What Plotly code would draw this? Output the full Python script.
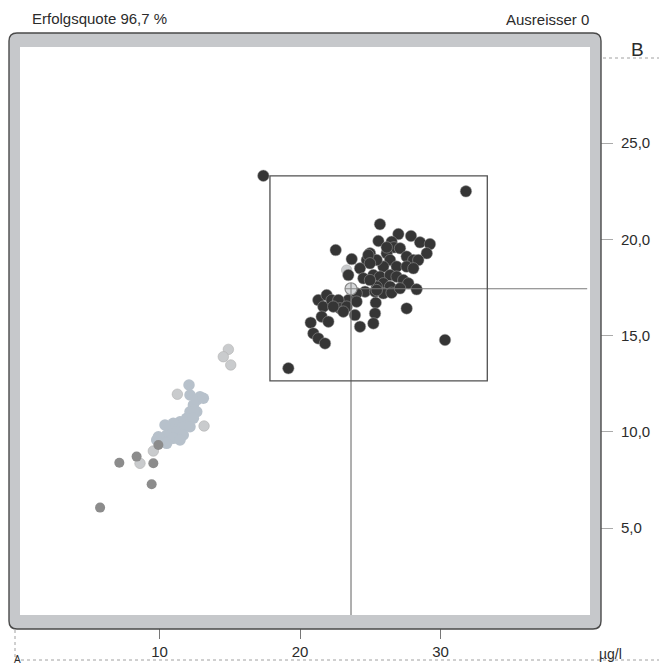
import plotly.graph_objects as go

# ---------------- data ----------------
dark_x = [17.39, 31.81, 19.17, 30.32, 27.59, 22.54, 25.69,
          27.00, 27.90, 25.58, 26.52, 28.54, 29.25, 29.02, 26.69, 27.12, 26.17,
          24.98, 24.75, 27.59, 28.07, 28.42, 26.41, 25.93, 25.46, 24.27, 23.68,
          26.88, 27.59, 28.07, 25.22, 25.69, 26.41, 26.88, 27.35, 27.71, 25.93,
          26.41, 25.46, 24.51, 24.98, 23.44, 28.30, 24.63, 25.34, 25.93, 26.52,
          27.12, 24.03, 23.44, 26.17, 24.86, 24.98, 25.46,
          21.30, 21.90, 21.66, 22.25, 22.73, 22.85, 23.32, 24.03, 23.08, 22.37,
          23.91, 25.39, 25.34, 25.22, 24.27, 21.54, 22.02, 20.76, 20.95, 21.30,
          21.78]
dark_y = [23.30, 22.49, 13.30, 14.77, 16.41, 19.44, 20.78,
          20.27, 20.17, 19.91, 19.87, 19.84, 19.75, 19.27, 19.58, 19.53, 19.27,
          19.27, 18.92, 19.10, 18.92, 18.92, 18.92, 18.58, 18.92, 18.49, 18.97,
          18.58, 18.58, 18.49, 18.14, 18.06, 18.14, 18.06, 17.88, 17.71, 17.71,
          17.54, 17.54, 17.97, 17.88, 18.14, 17.40, 17.28, 17.28, 17.19, 17.22,
          17.45, 17.19, 16.84, 19.58, 19.18, 18.75, 17.36,
          16.84, 17.10, 16.50, 16.84, 16.84, 16.41, 16.50, 16.76, 16.24, 16.50,
          16.06, 16.70, 16.15, 15.63, 15.46, 15.98, 15.72, 15.67, 15.11, 14.85,
          14.59]

blob_x = [12.10, 12.17, 12.88, 12.41, 12.17, 12.65, 11.93, 12.41, 11.46, 10.98,
          11.69, 12.17, 10.75, 11.22, 10.51, 10.98, 11.69, 10.16, 10.51, 11.46,
          9.92, 12.65, 13.12, 10.39, 9.80]
blob_y = [12.43, 11.91, 11.82, 11.39, 11.04, 11.04, 10.70, 10.70, 10.52, 10.44,
          10.26, 10.26, 10.18, 10.00, 9.83, 9.66, 9.83, 9.57, 9.40, 9.57,
          9.74, 11.65, 11.74, 10.35, 9.57]

light_x = [14.90, 14.54, 15.07, 11.27, 13.17, 9.56, 8.61, 23.32]
light_y = [14.28, 13.90, 13.47, 11.95, 10.30, 9.00, 8.36, 18.40]

mid_x = [8.37, 9.56, 7.14, 9.44, 5.77, 9.92]
mid_y = [8.71, 8.36, 8.39, 7.27, 6.06, 9.31]

center_x = [23.63]
center_y = [17.43]

rect_x = [17.86, 33.33]
rect_y = [12.64, 23.29]

x_range = [0.07, 40.64]
y_range = [0.48, 29.99]

x_ticks = [10, 20, 30]
y_ticks = [5, 10, 15, 20, 25]

title_left = "Erfolgsquote 96,7 %"
title_right = "Ausreisser 0"
axis_b = "B"
axis_a = "A"
unit = "µg/l"

# ---------------- figure ----------------
FONT = "Liberation Sans, Arial, sans-serif"
TXT = "#2b2b2b"

fig = go.Figure()

fig.add_trace(go.Scatter(x=blob_x, y=blob_y, mode="markers",
                         marker=dict(size=11.5, color="#b7c1cb", line=dict(width=0)),
                         hoverinfo="skip", showlegend=False))
fig.add_trace(go.Scatter(x=light_x, y=light_y, mode="markers",
                         marker=dict(size=10.5, color="#c9cbcd",
                                     line=dict(width=0.6, color="#b0b0b0")),
                         hoverinfo="skip", showlegend=False))
fig.add_trace(go.Scatter(x=mid_x, y=mid_y, mode="markers",
                         marker=dict(size=10, color="#8c8c8c", line=dict(width=0)),
                         hoverinfo="skip", showlegend=False))
fig.add_trace(go.Scatter(x=dark_x, y=dark_y, mode="markers",
                         marker=dict(size=11.5, color="#353535",
                                     line=dict(width=0.5, color="#a0a0a0")),
                         hoverinfo="skip", showlegend=False))

# cross-hair lines from the assigned value
fig.add_trace(go.Scatter(x=[center_x[0], center_x[0]], y=[center_y[0], y_range[0]],
                         mode="lines", line=dict(color="#7a7a7a", width=1.2),
                         hoverinfo="skip", showlegend=False))
fig.add_trace(go.Scatter(x=[center_x[0], x_range[1] - 0.2], y=[center_y[0], center_y[0]],
                         mode="lines", line=dict(color="#7a7a7a", width=1.2),
                         hoverinfo="skip", showlegend=False))
fig.add_trace(go.Scatter(x=center_x, y=center_y, mode="markers",
                         marker=dict(size=12, symbol="circle-cross", color="#d6d8da",
                                     line=dict(width=1.2, color="#8a8a8a")),
                         hoverinfo="skip", showlegend=False))

# tolerance rectangle
fig.add_shape(type="rect", xref="x", yref="y",
              x0=rect_x[0], x1=rect_x[1], y0=rect_y[0], y1=rect_y[1],
              line=dict(color="#505050", width=1.3), layer="above")

# plot frame geometry (pixels -> paper)
W, H = 659, 667
ML, MR, MT, MB = 20, 69, 47, 52
PW, PH = W - ML - MR, H - MT - MB


def px(xp):
    return (xp - ML) / PW


def py(yp):
    return (H - MB - yp) / PH


ox0, ox1, oy0, oy1 = px(9), px(601), py(629), py(33)
rx, ry = 8 / PW, 8 / PH


def rounded(x0, x1, y0, y1):
    return (f"M{x0+rx},{y0} L{x1-rx},{y0} Q{x1},{y0} {x1},{y0+ry} "
            f"L{x1},{y1-ry} Q{x1},{y1} {x1-rx},{y1} L{x0+rx},{y1} "
            f"Q{x0},{y1} {x0},{y1-ry} L{x0},{y0+ry} Q{x0},{y0} {x0+rx},{y0} Z")


band = rounded(ox0, ox1, oy0, oy1) + " M0,0 L1,0 L1,1 L0,1 Z"
fig.add_shape(type="path", xref="paper", yref="paper", path=band,
              fillcolor="#c6c8cb", fillrule="evenodd", line=dict(width=0),
              layer="above")
fig.add_shape(type="path", xref="paper", yref="paper",
              path=rounded(ox0, ox1, oy0, oy1),
              line=dict(color="#4a4a4a", width=1.4), layer="above")

# dotted guide lines outside the frame
dot = dict(color="#a0a0a0", width=1, dash="dot")
fig.add_shape(type="line", xref="paper", yref="paper",
              x0=px(603), x1=px(659), y0=py(58), y1=py(58), line=dot)
fig.add_shape(type="line", xref="paper", yref="paper",
              x0=px(15), x1=px(659), y0=py(660), y1=py(660), line=dot)
fig.add_shape(type="line", xref="paper", yref="paper",
              x0=px(15), x1=px(15), y0=py(630), y1=py(660), line=dot)

ann = [
    dict(text=title_left, x=px(30), y=py(18), xanchor="left", yanchor="middle",
         font=dict(size=15, color=TXT)),
    dict(text=title_right, x=px(591), y=py(20), xanchor="right", yanchor="middle",
         font=dict(size=15, color=TXT)),
    dict(text=axis_b, x=px(637), y=py(49), xanchor="center", yanchor="middle",
         font=dict(size=19, color=TXT)),
    dict(text=unit, x=px(611), y=py(654), xanchor="center", yanchor="middle",
         font=dict(size=14, color=TXT)),
    dict(text=axis_a, x=px(17), y=py(667), xanchor="center", yanchor="bottom",
         font=dict(size=10, color=TXT)),
]
for a in ann:
    fig.add_annotation(xref="paper", yref="paper", showarrow=False, **a)

fig.update_layout(
    width=W, height=H,
    margin=dict(l=ML, r=MR, t=MT, b=MB, pad=0, autoexpand=False),
    paper_bgcolor="white", plot_bgcolor="white",
    separators=",.",
    font=dict(family=FONT, color=TXT, size=14),
    showlegend=False,
)
fig.update_xaxes(range=x_range, showgrid=False, zeroline=False, showline=False,
                 tickmode="array", tickvals=x_ticks, ticktext=[str(t) for t in x_ticks],
                 ticks="outside", ticklen=23, tickcolor="#777", tickwidth=1,
                 ticklabelstandoff=0, tickfont=dict(size=15, color=TXT))
fig.update_yaxes(range=y_range, showgrid=False, zeroline=False, showline=False,
                 side="right", tickmode="array", tickvals=y_ticks, tickformat=".1f",
                 ticks="outside", ticklen=22, tickcolor="#aaa", tickwidth=1,
                 ticklabelstandoff=5, tickfont=dict(size=15, color=TXT))

fig.write_html(
    "out.html",
    config={"displayModeBar": False},
    post_script="document.body.style.margin='0px';document.body.style.overflow='hidden';",
)
